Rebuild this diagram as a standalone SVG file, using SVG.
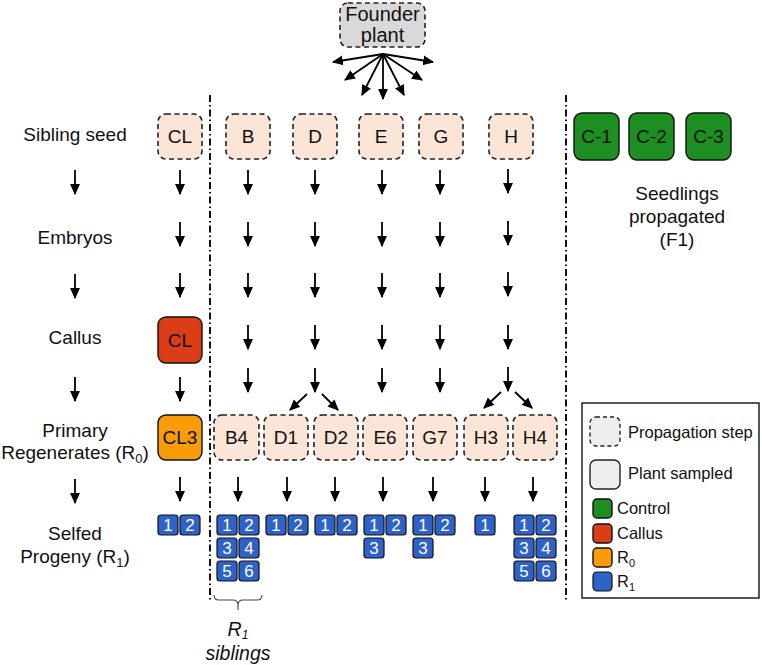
<svg xmlns="http://www.w3.org/2000/svg" width="762" height="665" viewBox="0 0 762 665">
<defs>
<marker id="ah" markerUnits="userSpaceOnUse" markerWidth="11" markerHeight="11" viewBox="0 0 10 10" refX="9" refY="5" orient="auto">
<path d="M0,0.5 L10,5 L0,9.5 z" fill="#000"/>
</marker>
</defs>
<style>
text{font-family:"Liberation Sans",Arial,sans-serif;fill:#111}
.lab{font-size:19px;text-anchor:middle}
.bt{font-size:19px;text-anchor:middle}
.prop{fill:#fbe5d6;stroke:#222;stroke-width:1.6;stroke-dasharray:5,3.5}
.cg{fill:#1d8f22;stroke:#111;stroke-width:1.4}
.cr{fill:#db3d17;stroke:#111;stroke-width:1.4}
.co{fill:#f89c0a;stroke:#111;stroke-width:1.4}
.cb{fill:#2f62c8;stroke:#111;stroke-width:1.2}
.nt{font-size:17px;fill:#fff;text-anchor:middle}
.ar line{stroke:#000;stroke-width:1.8;marker-end:url(#ah)}
.dd{stroke:#111;stroke-width:2;stroke-dasharray:7,3,1.5,3;fill:none}
.lg{font-size:16.5px}
</style>

<!-- separators -->
<line class="dd" x1="210" y1="95" x2="210" y2="600"/>
<line class="dd" x1="566" y1="95" x2="566" y2="600"/>

<!-- left labels -->
<g id="labels">
<text class="lab" x="75" y="141">Sibling seed</text>
<text class="lab" x="75" y="244">Embryos</text>
<text class="lab" x="75" y="344">Callus</text>
<text class="lab" x="75" y="437">Primary</text>
<text class="lab" x="75" y="459">Regenerates (R<tspan font-size="13" dy="4">0</tspan><tspan dy="-4">)</tspan></text>
<text class="lab" x="75" y="540">Selfed</text>
<text class="lab" x="75" y="563">Progeny (R<tspan font-size="13" dy="4">1</tspan><tspan dy="-4">)</tspan></text>
</g>

<g id="founder">
<rect x="340" y="3" width="85" height="44" rx="8" fill="#d9d9d9" stroke="#222" stroke-width="1.6" stroke-dasharray="5,3.5"/>
<text x="382.5" y="21" font-size="20" text-anchor="middle">Founder</text>
<text x="382.5" y="42" font-size="20" text-anchor="middle">plant</text>
</g>

<!-- sibling seed row -->
<g id="seed-CL"><rect class="prop" x="158" y="114" width="44" height="45" rx="8"/><text class="bt" x="180" y="143">CL</text></g>
<g id="seed-B"><rect class="prop" x="226" y="114" width="44" height="45" rx="8"/><text class="bt" x="248" y="143">B</text></g>
<g id="seed-D"><rect class="prop" x="293" y="114" width="44" height="45" rx="8"/><text class="bt" x="315" y="143">D</text></g>
<g id="seed-E"><rect class="prop" x="359" y="114" width="44" height="45" rx="8"/><text class="bt" x="381" y="143">E</text></g>
<g id="seed-G"><rect class="prop" x="419" y="114" width="44" height="45" rx="8"/><text class="bt" x="441" y="143">G</text></g>
<g id="seed-H"><rect class="prop" x="489" y="114" width="44" height="45" rx="8"/><text class="bt" x="511" y="143">H</text></g>

<!-- controls -->
<g id="C-1"><rect class="cg" x="574" y="113" width="45" height="47" rx="8"/><text class="bt" x="596.5" y="143">C-1</text></g>
<g id="C-2"><rect class="cg" x="629" y="113" width="45" height="47" rx="8"/><text class="bt" x="651.5" y="143">C-2</text></g>
<g id="C-3"><rect class="cg" x="686" y="113" width="45" height="47" rx="8"/><text class="bt" x="708.5" y="143">C-3</text></g>
<g id="seedlings-label">
<text class="lab" x="677" y="200">Seedlings</text>
<text class="lab" x="677" y="223">propagated</text>
<text class="lab" x="677" y="246">(F1)</text>
</g>

<!-- callus -->
<g id="callus-CL"><rect class="cr" x="158" y="317" width="44" height="46" rx="8"/><text class="bt" x="180" y="347">CL</text></g>

<!-- R0 row -->
<g id="R0-CL3"><rect class="co" x="158" y="415" width="44" height="45" rx="8"/><text class="bt" x="180" y="444">CL3</text></g>
<g id="R0-B4"><rect class="prop" x="214" y="415" width="45" height="45" rx="8"/><text class="bt" x="236.5" y="444">B4</text></g>
<g id="R0-D1"><rect class="prop" x="264" y="415" width="44" height="45" rx="8"/><text class="bt" x="286" y="444">D1</text></g>
<g id="R0-D2"><rect class="prop" x="314" y="415" width="44" height="45" rx="8"/><text class="bt" x="336" y="444">D2</text></g>
<g id="R0-E6"><rect class="prop" x="363" y="415" width="44" height="45" rx="8"/><text class="bt" x="385" y="444">E6</text></g>
<g id="R0-G7"><rect class="prop" x="413" y="415" width="44" height="45" rx="8"/><text class="bt" x="435" y="444">G7</text></g>
<g id="R0-H3"><rect class="prop" x="464" y="415" width="44" height="45" rx="8"/><text class="bt" x="486" y="444">H3</text></g>
<g id="R0-H4"><rect class="prop" x="513" y="415" width="44" height="45" rx="8"/><text class="bt" x="535" y="444">H4</text></g>

<!-- R1 progeny -->
<g id="R1-CL3">
<rect class="cb" x="158" y="515" width="20" height="20" rx="3"/><text class="nt" x="168" y="531">1</text>
<rect class="cb" x="180" y="515" width="20" height="20" rx="3"/><text class="nt" x="190" y="531">2</text>
</g>
<g id="R1-B4">
<rect class="cb" x="217" y="515" width="20" height="20" rx="3"/><text class="nt" x="227" y="531">1</text>
<rect class="cb" x="239" y="515" width="20" height="20" rx="3"/><text class="nt" x="249" y="531">2</text>
<rect class="cb" x="217" y="538" width="20" height="20" rx="3"/><text class="nt" x="227" y="554">3</text>
<rect class="cb" x="239" y="538" width="20" height="20" rx="3"/><text class="nt" x="249" y="554">4</text>
<rect class="cb" x="217" y="561" width="20" height="20" rx="3"/><text class="nt" x="227" y="577">5</text>
<rect class="cb" x="239" y="561" width="20" height="20" rx="3"/><text class="nt" x="249" y="577">6</text>
</g>
<g id="R1-D1">
<rect class="cb" x="266" y="515" width="20" height="20" rx="3"/><text class="nt" x="276" y="531">1</text>
<rect class="cb" x="288" y="515" width="20" height="20" rx="3"/><text class="nt" x="298" y="531">2</text>
</g>
<g id="R1-D2">
<rect class="cb" x="315" y="515" width="20" height="20" rx="3"/><text class="nt" x="325" y="531">1</text>
<rect class="cb" x="337" y="515" width="20" height="20" rx="3"/><text class="nt" x="347" y="531">2</text>
</g>
<g id="R1-E6">
<rect class="cb" x="364" y="515" width="20" height="20" rx="3"/><text class="nt" x="374" y="531">1</text>
<rect class="cb" x="386" y="515" width="20" height="20" rx="3"/><text class="nt" x="396" y="531">2</text>
<rect class="cb" x="364" y="538" width="20" height="20" rx="3"/><text class="nt" x="374" y="554">3</text>
</g>
<g id="R1-G7">
<rect class="cb" x="413" y="515" width="20" height="20" rx="3"/><text class="nt" x="423" y="531">1</text>
<rect class="cb" x="435" y="515" width="20" height="20" rx="3"/><text class="nt" x="445" y="531">2</text>
<rect class="cb" x="413" y="538" width="20" height="20" rx="3"/><text class="nt" x="423" y="554">3</text>
</g>
<g id="R1-H3">
<rect class="cb" x="475" y="515" width="20" height="20" rx="3"/><text class="nt" x="485" y="531">1</text>
</g>
<g id="R1-H4">
<rect class="cb" x="514" y="515" width="20" height="20" rx="3"/><text class="nt" x="524" y="531">1</text>
<rect class="cb" x="536" y="515" width="20" height="20" rx="3"/><text class="nt" x="546" y="531">2</text>
<rect class="cb" x="514" y="538" width="20" height="20" rx="3"/><text class="nt" x="524" y="554">3</text>
<rect class="cb" x="536" y="538" width="20" height="20" rx="3"/><text class="nt" x="546" y="554">4</text>
<rect class="cb" x="514" y="561" width="20" height="20" rx="3"/><text class="nt" x="524" y="577">5</text>
<rect class="cb" x="536" y="561" width="20" height="20" rx="3"/><text class="nt" x="546" y="577">6</text>
</g>

<!-- brace -->
<g id="siblings">
<path d="M214,595 Q214,600 219,600 L233,600 Q238,600 238,605 L238,610 M238,605 Q238,600 243,600 L257,600 Q262,600 262,595" fill="none" stroke="#444" stroke-width="1.1"/>
<text x="238" y="636" font-size="19.5" font-style="italic" text-anchor="middle">R<tspan font-size="12" dy="3">1</tspan></text>
<text x="238" y="660" font-size="19.5" font-style="italic" text-anchor="middle">siblings</text>
</g>

<!-- legend -->
<g id="legend">
<rect x="582" y="403" width="177" height="195" fill="#fff" stroke="#111" stroke-width="1.4"/>
<rect x="590" y="417" width="30" height="29" rx="6" fill="#eeeeee" stroke="#222" stroke-width="1.4" stroke-dasharray="4,3"/>
<text class="lg" x="628" y="438">Propagation step</text>
<rect x="590" y="460" width="30" height="29" rx="6" fill="#eeeeee" stroke="#222" stroke-width="1.4"/>
<text class="lg" x="628" y="479">Plant sampled</text>
<rect class="cg" x="593" y="499" width="19" height="19" rx="4"/>
<text class="lg" x="617" y="514">Control</text>
<rect class="cr" x="593" y="524" width="19" height="19" rx="4"/>
<text class="lg" x="617" y="539">Callus</text>
<rect class="co" x="593" y="548" width="19" height="19" rx="4"/>
<text class="lg" x="617" y="563">R<tspan font-size="11" dy="4">0</tspan></text>
<rect class="cb" x="593" y="572" width="19" height="19" rx="4"/>
<text class="lg" x="617" y="587">R<tspan font-size="11" dy="4">1</tspan></text>
</g>

<!-- connectors -->
<g id="connectors" class="ar">
<line x1="383" y1="54" x2="333" y2="62"/>
<line x1="383" y1="54" x2="345" y2="80"/>
<line x1="383" y1="54" x2="362" y2="95"/>
<line x1="383" y1="54" x2="383" y2="99"/>
<line x1="383" y1="54" x2="404" y2="95"/>
<line x1="383" y1="54" x2="422" y2="80"/>
<line x1="383" y1="54" x2="433" y2="62"/>

<line x1="75" y1="170" x2="75" y2="194"/>
<line x1="75" y1="274" x2="75" y2="298"/>
<line x1="75" y1="377" x2="75" y2="401"/>
<line x1="75" y1="479" x2="75" y2="503"/>

<line x1="180" y1="170" x2="180" y2="194"/>
<line x1="180" y1="222" x2="180" y2="246"/>
<line x1="180" y1="273" x2="180" y2="297"/>
<line x1="180" y1="377" x2="180" y2="401"/>
<line x1="180" y1="477" x2="180" y2="501"/>

<line x1="248" y1="170" x2="248" y2="194"/>
<line x1="248" y1="222" x2="248" y2="246"/>
<line x1="248" y1="273" x2="248" y2="297"/>
<line x1="248" y1="325" x2="248" y2="349"/>
<line x1="248" y1="368" x2="248" y2="392"/>

<line x1="315" y1="170" x2="315" y2="194"/>
<line x1="315" y1="222" x2="315" y2="246"/>
<line x1="315" y1="273" x2="315" y2="297"/>
<line x1="315" y1="325" x2="315" y2="349"/>
<line x1="315" y1="368" x2="315" y2="392"/>
<line x1="307" y1="394" x2="290" y2="410"/>
<line x1="322" y1="394" x2="338" y2="410"/>

<line x1="382" y1="170" x2="382" y2="194"/>
<line x1="382" y1="222" x2="382" y2="246"/>
<line x1="382" y1="273" x2="382" y2="297"/>
<line x1="382" y1="325" x2="382" y2="349"/>
<line x1="382" y1="368" x2="382" y2="392"/>

<line x1="440" y1="170" x2="440" y2="194"/>
<line x1="440" y1="222" x2="440" y2="246"/>
<line x1="440" y1="273" x2="440" y2="297"/>
<line x1="440" y1="325" x2="440" y2="349"/>
<line x1="440" y1="368" x2="440" y2="392"/>

<line x1="508" y1="169" x2="508" y2="193"/>
<line x1="508" y1="221" x2="508" y2="245"/>
<line x1="508" y1="272" x2="508" y2="296"/>
<line x1="508" y1="325" x2="508" y2="349"/>
<line x1="508" y1="367" x2="508" y2="391"/>
<line x1="501" y1="392" x2="484" y2="408"/>
<line x1="515" y1="392" x2="532" y2="408"/>

<line x1="238" y1="477" x2="238" y2="501"/>
<line x1="287" y1="477" x2="287" y2="501"/>
<line x1="335" y1="477" x2="335" y2="501"/>
<line x1="383" y1="477" x2="383" y2="501"/>
<line x1="433" y1="477" x2="433" y2="501"/>
<line x1="485" y1="477" x2="485" y2="501"/>
<line x1="533" y1="477" x2="533" y2="501"/>
</g>
</svg>
